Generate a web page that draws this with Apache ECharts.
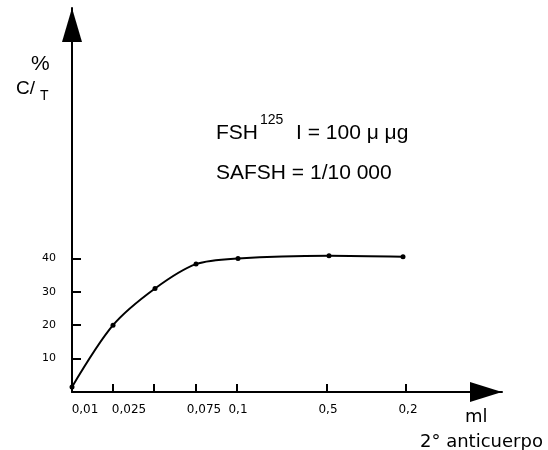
<!DOCTYPE html>
<html>
<head>
<meta charset="utf-8">
<script src="https://cdn.jsdelivr.net/npm/echarts@6/dist/echarts.min.js"></script>
<style>
  html, body { margin: 0; padding: 0; background: #fff; }
  #chart { width: 548px; height: 450px; }
</style>
</head>
<body>
<div id="chart"></div>
<script>
// hand-drawn, non-linear x axis: positions are in axis units (0..430)
const xLabels = ['0,01', '0,025', '0,075', '0,1', '0,5', '0,2'];
const labelPos = [13, 57, 132, 166, 256, 336];
const tickPos = [41, 82, 124, 165, 255, 334];

// measured points (%C/T)
const pointPos = [0, 41, 83, 124, 166, 257, 331];
const ctValues = [1.5, 20, 31, 38.3, 40, 40.8, 40.5];

const yTicks = [10, 20, 30, 40];

const chart = echarts.init(document.getElementById('chart'));

const axisColor = '#000';
const txt = (x, y, text, size, align, family) => ({
  type: 'text',
  x, y,
  style: {
    text,
    fill: '#000',
    font: `${size}px ${family || '"Liberation Sans", Arial, sans-serif'}`,
    textAlign: align || 'left',
    textVerticalAlign: 'middle'
  }
});

chart.setOption({
  animation: false,
  grid: { left: 72, right: 46, top: 8, bottom: 58 },
  xAxis: {
    type: 'value',
    min: 0,
    max: 430,
    splitLine: { show: false },
    axisLine: {
      show: true,
      symbol: ['none', 'triangle'],
      symbolSize: [20, 32],
      symbolOffset: [0, -16],
      lineStyle: { color: axisColor, width: 2 }
    },
    axisTick: {
      show: true,
      inside: true,
      length: 8,
      customValues: tickPos,
      lineStyle: { color: axisColor, width: 2 }
    },
    axisLabel: {
      customValues: labelPos,
      margin: 12,
      color: '#000',
      fontSize: 12,
      fontFamily: 'DejaVu Sans',
      formatter: v => xLabels[labelPos.indexOf(v)]
    }
  },
  yAxis: {
    type: 'value',
    min: 0,
    max: 115,
    splitLine: { show: false },
    axisLine: {
      show: true,
      symbol: ['none', 'triangle'],
      symbolSize: [20, 34],
      symbolOffset: [0, -17],
      lineStyle: { color: axisColor, width: 2 }
    },
    axisTick: {
      show: true,
      inside: true,
      length: 9,
      customValues: yTicks,
      lineStyle: { color: axisColor, width: 2 }
    },
    axisLabel: {
      customValues: yTicks,
      margin: 16,
      color: '#000',
      fontSize: 11,
      fontFamily: 'DejaVu Sans'
    }
  },
  series: [{
    type: 'line',
    data: pointPos.map((x, i) => [x, ctValues[i]]),
    smooth: 0.3,
    symbol: 'circle',
    symbolSize: 5,
    itemStyle: { color: '#000' },
    lineStyle: { color: '#000', width: 2 }
  }],
  graphic: [
    // y axis name
    txt(31, 64, '%', 21),
    txt(16, 89, 'C/', 19),
    txt(40, 96, 'T', 14),
    // annotation
    txt(216, 133, 'FSH', 21),
    txt(260, 120, '125', 14),
    txt(296, 133, 'I = 100 μ μg', 21),
    txt(216, 173, 'SAFSH = 1/10 000', 21),
    // x axis name
    txt(465, 417, 'ml', 18, 'left', '"DejaVu Sans"'),
    txt(420, 442, '2° anticuerpo', 18, 'left', '"DejaVu Sans"')
  ]
});
</script>
</body>
</html>
